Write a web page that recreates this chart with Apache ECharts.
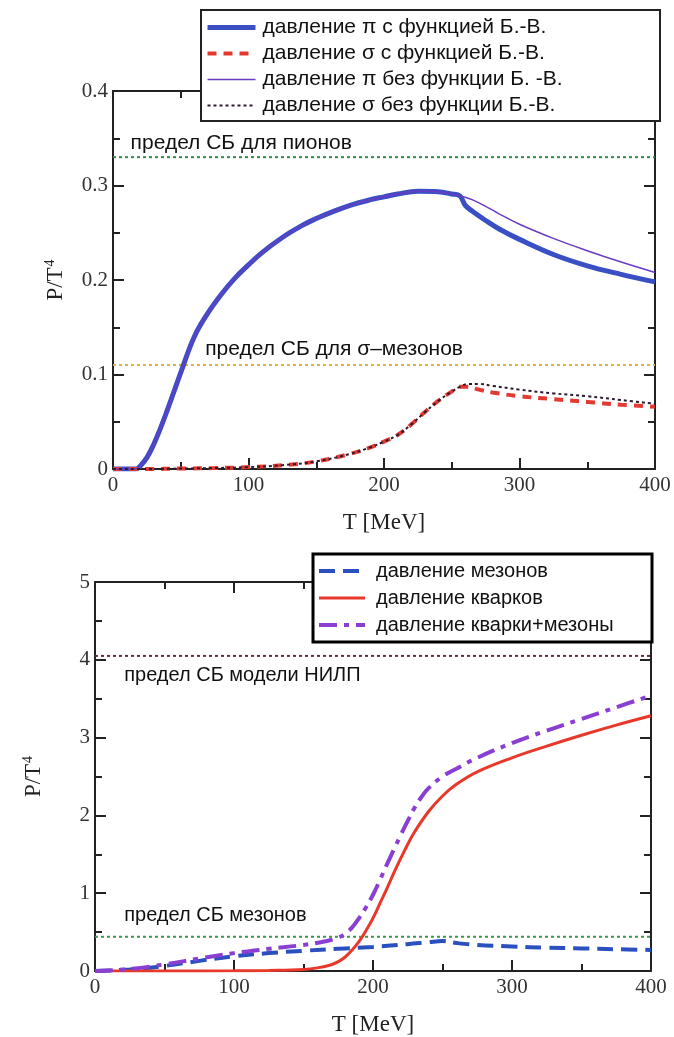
<!DOCTYPE html>
<html>
<head>
<meta charset="utf-8">
<script src="https://cdn.jsdelivr.net/npm/echarts@6/dist/echarts.min.js"></script>
<style>
  html, body { margin: 0; padding: 0; background: #fff; }
  #c { width: 674px; height: 1037px; }
</style>
</head>
<body>
<div id="c"></div>
<script>
// ---------- upper panel: pion and sigma pressure, P/T^4 vs T [MeV] ----------
const T_PI     = [0,10,17,20,25,30,35,40,45,50,60,70,80,90,100,110,125,140,150,160,175,190,200,210,225,240,250,256,260,265,275,285,300,325,350,375,400];
const PI_BE    = [0,0,0,0.003,0.012,0.026,0.043,0.062,0.082,0.102,0.14,0.165,0.185,0.202,0.216,0.229,0.245,0.258,0.265,0.271,0.279,0.285,0.288,0.291,0.294,0.2935,0.291,0.289,0.279,0.273,0.263,0.254,0.243,0.227,0.215,0.206,0.198];
const PI_NOBE  = [0,0,0,0.003,0.012,0.026,0.043,0.062,0.082,0.102,0.14,0.165,0.185,0.202,0.216,0.229,0.245,0.258,0.265,0.271,0.279,0.285,0.288,0.291,0.294,0.2935,0.291,0.289,0.2875,0.285,0.278,0.270,0.259,0.244,0.231,0.219,0.208];

const T_SIG    = [0,25,50,75,100,125,150,175,190,200,210,220,230,240,250,256,262,270,280,300,325,350,375,400];
const SIG_BE   = [0,0,0.0005,0.001,0.002,0.004,0.008,0.016,0.023,0.029,0.036,0.047,0.060,0.072,0.082,0.087,0.087,0.084,0.081,0.077,0.074,0.071,0.068,0.066];
const SIG_NOBE = [0,0,0.0005,0.001,0.002,0.004,0.008,0.016,0.023,0.029,0.036,0.047,0.060,0.072,0.082,0.087,0.090,0.090,0.088,0.084,0.080,0.077,0.073,0.069];

const SB_PION  = 0.33;
const SB_SIGMA = 0.11;

// ---------- lower panel: mesons, quarks and their sum ----------
const T_Q      = [0,50,100,125,150,160,170,175,180,185,190,195,200,205,210,215,220,225,230,240,250,260,275,300,325,350,375,400];
const QUARK    = [0,0,0.003,0.008,0.02,0.04,0.08,0.12,0.18,0.27,0.38,0.52,0.68,0.87,1.06,1.26,1.45,1.63,1.79,2.05,2.25,2.40,2.56,2.74,2.89,3.03,3.16,3.28];

const T_M      = [0,25,50,75,100,125,150,175,200,225,240,250,260,275,300,325,350,375,400];
const MESON    = [0,0.02,0.065,0.13,0.19,0.23,0.26,0.285,0.31,0.345,0.37,0.385,0.36,0.335,0.315,0.30,0.29,0.28,0.27];

const T_S      = [0,25,50,75,100,125,150,165,175,180,185,190,195,200,205,210,215,220,225,230,235,240,250,260,275,300,325,350,375,400];
const SUM      = [0,0.025,0.085,0.16,0.23,0.285,0.335,0.38,0.43,0.48,0.56,0.68,0.82,0.98,1.17,1.37,1.56,1.75,1.93,2.1,2.24,2.35,2.5,2.6,2.74,2.93,3.09,3.24,3.39,3.54];

const SB_NJL   = 4.05;
const SB_MESON = 0.44;

// axis tick labels
const X_TICKS  = [0,100,200,300,400];
const Y1_TICKS = ['0','0.1','0.2','0.3','0.4'];
const Y2_TICKS = ['0','1','2','3','4','5'];

// names
const N_PI_BE    = 'давление \u03c0 с функцией Б.-В.';
const N_SIG_BE   = 'давление \u03c3 с функцией Б.-В.';
const N_PI_NOBE  = 'давление \u03c0 без функции Б. -В.';
const N_SIG_NOBE = 'давление \u03c3 без функции Б.-В.';
const N_MES  = 'давление мезонов';
const N_QRK  = 'давление кварков';
const N_SUM  = 'давление кварки+мезоны';

const zip = (xs, ys) => xs.map((x, i) => [x, ys[i]]);

const SERIF = 'Liberation Serif';
const SANS  = 'Liberation Sans';
const AX = '#222';

// line styles shared by each curve and its legend sample
const ST = {
  piBE:    { color: '#3a4fc4', width: 5 },
  sigBE:   { color: '#e23a32', width: 4, type: [9, 7] },
  piNoBE:  { color: '#6a3cc4', width: 1.5 },
  sigNoBE: { color: '#2a1a30', width: 2, type: [3, 3] },
  mes:     { color: '#2a4fbf', width: 4, type: [16, 8] },
  qrk:     { color: '#e8382a', width: 3 },
  sum:     { color: '#8a3ed2', width: 4, type: [18, 7, 5, 7] }
};

function xAxisDef(grid, pos, showLabel, showName) {
  return {
    type: 'value', gridIndex: grid, position: pos,
    min: 0, max: 400, interval: 100,
    name: showName ? 'T [MeV]' : '', nameLocation: 'middle', nameGap: 42,
    nameTextStyle: { fontFamily: SERIF, fontSize: 23, color: '#222' },
    axisLine: { show: true, onZero: false, lineStyle: { color: AX, width: 2 } },
    axisTick: { show: true, inside: true, length: 11, lineStyle: { color: AX, width: 2 } },
    minorTick: { show: true, splitNumber: 2, length: 7, lineStyle: { color: AX, width: 2 } },
    splitLine: { show: false },
    axisLabel: { show: showLabel, fontFamily: SERIF, fontSize: 21, color: '#333', margin: 6,
      formatter: v => X_TICKS.indexOf(v) >= 0 ? String(v) : '' }
  };
}

function yAxisDef(grid, pos, max, interval, labels, showLabel, gap) {
  return {
    type: 'value', gridIndex: grid, position: pos,
    min: 0, max: max, interval: interval,
    name: showLabel ? '{a|P/T}{s|4}' : '', nameLocation: 'middle', nameGap: gap,
    nameTextStyle: { rich: {
      a: { fontFamily: SERIF, fontSize: 23, color: '#222' },
      s: { fontFamily: SERIF, fontSize: 14, color: '#222', verticalAlign: 'top', padding: [0, 0, 12, 1] }
    } },
    axisLine: { show: true, onZero: false, lineStyle: { color: AX, width: 2 } },
    axisTick: { show: true, inside: true, length: 11, lineStyle: { color: AX, width: 2 } },
    minorTick: { show: true, splitNumber: 2, length: 7, lineStyle: { color: AX, width: 2 } },
    splitLine: { show: false },
    axisLabel: { show: showLabel, fontFamily: SERIF, fontSize: 21, color: '#333', margin: 5,
      formatter: v => labels[Math.round(v / interval)] }
  };
}

// horizontal Stefan–Boltzmann limit with its caption
function limitSeries(name, xAxisIndex, yAxisIndex, value, color, caption, capX, capY, capSize) {
  return {
    name: name, type: 'line', xAxisIndex, yAxisIndex,
    data: [[0, value], [400, value]],
    symbol: 'none', silent: true, z: 1,
    lineStyle: { color: color, width: 2, type: [3, 3] },
    markPoint: {
      symbol: 'circle', symbolSize: 0, silent: true,
      data: [{ coord: [capX, capY] }],
      label: { show: true, position: 'right', distance: 0, formatter: caption,
        fontFamily: SANS, fontSize: capSize, color: '#111' }
    }
  };
}

function curve(name, xAxisIndex, yAxisIndex, xs, ys, style, z) {
  return {
    name, type: 'line', xAxisIndex, yAxisIndex,
    data: zip(xs, ys), symbol: 'none', smooth: 0.4, z: z,
    lineStyle: Object.assign({ cap: 'butt' }, style), itemStyle: { color: style.color }
  };
}

const legendItem = (name, style) => ({ name, lineStyle: Object.assign({}, style), itemStyle: { opacity: 0 } });

const chart = echarts.init(document.getElementById('c'), null, { renderer: 'canvas' });

chart.setOption({
  backgroundColor: '#fff',
  animation: false,
  grid: [
    { left: 113, right: 19, top: 91, height: 378, outerBoundsMode: 'none', containLabel: false },
    { left: 95, right: 23, top: 582, height: 389, outerBoundsMode: 'none', containLabel: false }
  ],
  xAxis: [
    xAxisDef(0, 'bottom', true, true),
    xAxisDef(0, 'top', false, false),
    xAxisDef(1, 'bottom', true, true),
    xAxisDef(1, 'top', false, false)
  ],
  yAxis: [
    yAxisDef(0, 'left', 0.4, 0.1, Y1_TICKS, true, 44),
    yAxisDef(0, 'right', 0.4, 0.1, Y1_TICKS, false, 0),
    yAxisDef(1, 'left', 5, 1, Y2_TICKS, true, 48),
    yAxisDef(1, 'right', 5, 1, Y2_TICKS, false, 0)
  ],
  legend: [
    {
      data: [legendItem(N_PI_BE, ST.piBE), legendItem(N_SIG_BE, ST.sigBE),
             legendItem(N_PI_NOBE, ST.piNoBE), legendItem(N_SIG_NOBE, ST.sigNoBE)],
      orient: 'vertical', left: 205, top: 17, z: 110,
      itemWidth: 48, itemHeight: 14, itemGap: 5, padding: 0,
      itemStyle: { opacity: 0 },
      textStyle: { fontFamily: SANS, fontSize: 21, color: '#111', padding: [0, 0, 0, 2] }
    },
    {
      data: [legendItem(N_MES, ST.mes), legendItem(N_QRK, ST.qrk), legendItem(N_SUM, ST.sum)],
      orient: 'vertical', left: 317, top: 561, z: 110,
      itemWidth: 46, itemHeight: 14, itemGap: 7, padding: 0,
      itemStyle: { opacity: 0 },
      textStyle: { fontFamily: SANS, fontSize: 20, color: '#111', padding: [0, 0, 0, 6] }
    }
  ],
  graphic: [
    { type: 'rect', z: 100, shape: { x: 201, y: 10, width: 459, height: 111 },
      style: { fill: '#fff', stroke: '#222', lineWidth: 2 } },
    { type: 'rect', z: 100, shape: { x: 313, y: 554, width: 339, height: 88 },
      style: { fill: '#fff', stroke: '#000', lineWidth: 3 } }
  ],
  series: [
    limitSeries('sbPion', 0, 0, SB_PION, '#2f8a4e', 'предел СБ для пионов', 13, 0.345, 21),
    limitSeries('sbSigma', 0, 0, SB_SIGMA, '#e2b236', 'предел СБ для \u03c3\u2013мезонов', 68, 0.127, 21),
    curve(N_PI_BE, 0, 0, T_PI, PI_BE, ST.piBE, 3),
    curve(N_SIG_BE, 0, 0, T_SIG, SIG_BE, ST.sigBE, 3),
    curve(N_PI_NOBE, 0, 0, T_PI, PI_NOBE, ST.piNoBE, 4),
    curve(N_SIG_NOBE, 0, 0, T_SIG, SIG_NOBE, ST.sigNoBE, 4),

    limitSeries('sbNjl', 2, 2, SB_NJL, '#6a2a48', 'предел СБ модели НИЛП', 21, 3.8, 20),
    limitSeries('sbMeson', 2, 2, SB_MESON, '#3a9a4a', 'предел СБ мезонов', 21, 0.71, 20),
    curve(N_MES, 2, 2, T_M, MESON, ST.mes, 3),
    curve(N_QRK, 2, 2, T_Q, QUARK, ST.qrk, 3),
    curve(N_SUM, 2, 2, T_S, SUM, ST.sum, 4)
  ]
});
</script>
</body>
</html>
